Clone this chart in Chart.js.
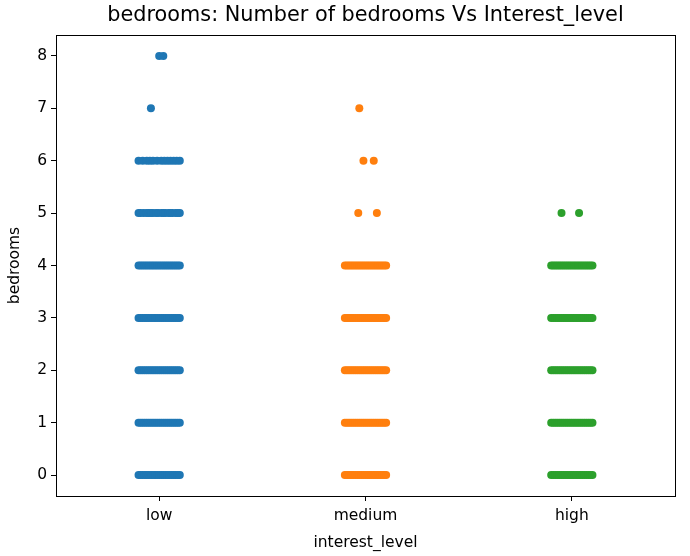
<!DOCTYPE html>
<html>
<head>
<meta charset="utf-8">
<script src="https://cdn.jsdelivr.net/npm/chart.js@4.4.1/dist/chart.umd.min.js"></script>
<style>
  html, body { margin: 0; padding: 0; background: #fff; }
  #wrap { width: 690px; height: 556px; }
</style>
</head>
<body>
<div id="wrap"><canvas id="c" width="690" height="556"></canvas></div>
<script>
// ---- data ----
const categories = ['low', 'medium', 'high'];
const yTickValues = [0, 1, 2, 3, 4, 5, 6, 7, 8];

// horizontal jitter offsets (category units) of the dots in a full strip
const fullStrip = [-0.10, -0.09, -0.08, -0.07, -0.06, -0.05, -0.04, -0.03, -0.02, -0.01, 0.00,
                   0.01, 0.02, 0.03, 0.04, 0.05, 0.06, 0.07, 0.08, 0.09, 0.10];
const lowFiveStrip = [-0.10, -0.09, -0.075, -0.06, -0.05, -0.04, -0.03, -0.015, -0.005, 0.01,
                      0.02, 0.03, 0.045, 0.055, 0.065, 0.08, 0.09, 0.10];
const lowSixStrip = [-0.10, -0.08, -0.06, -0.045, -0.03, -0.01, 0.01, 0.025, 0.04, 0.055,
                     0.07, 0.085, 0.10];

const lowLevels = [0, 1, 2, 3, 4, 5, 6, 7, 8];
const lowOffsets = [fullStrip, fullStrip, fullStrip, fullStrip, fullStrip, lowFiveStrip, lowSixStrip, [-0.04], [0.00, 0.02]];

const mediumLevels = [0, 1, 2, 3, 4, 5, 6, 7];
const mediumOffsets = [fullStrip, fullStrip, fullStrip, fullStrip, fullStrip, [-0.035, 0.055], [-0.01, 0.04], [-0.03]];

const highLevels = [0, 1, 2, 3, 4, 5];
const highOffsets = [fullStrip, fullStrip, fullStrip, fullStrip, fullStrip, [-0.05, 0.035]];

const seriesColors = ['#1f77b4', '#ff7f0e', '#2ca02c'];

// ---- build points ----
function buildPoints(catIndex, levels, offsets) {
  const pts = [];
  levels.forEach((lvl, i) => {
    offsets[i].forEach(o => pts.push({ x: catIndex + o, y: lvl }));
  });
  return pts;
}

const datasets = [
  { label: categories[0], data: buildPoints(0, lowLevels, lowOffsets) },
  { label: categories[1], data: buildPoints(1, mediumLevels, mediumOffsets) },
  { label: categories[2], data: buildPoints(2, highLevels, highOffsets) }
].map((d, i) => Object.assign(d, {
  backgroundColor: seriesColors[i],
  borderWidth: 0,
  pointRadius: 4,
  pointHoverRadius: 4
}));

const FONT = '"DejaVu Sans", sans-serif';

const framePlugin = {
  id: 'frame',
  afterDraw(chart) {
    const a = chart.chartArea, ctx = chart.ctx;
    ctx.save();
    ctx.strokeStyle = '#000';
    ctx.lineWidth = 1;
    ctx.strokeRect(Math.round(a.left) + 0.5, Math.round(a.top) + 0.5,
                   Math.round(a.right - a.left), Math.round(a.bottom - a.top));
    ctx.restore();
  }
};

new Chart(document.getElementById('c'), {
  type: 'scatter',
  data: { datasets },
  plugins: [framePlugin],
  options: {
    responsive: false,
    animation: false,
    layout: { padding: { left: 0, right: 15, top: 0, bottom: 0 } },
    plugins: {
      legend: { display: false },
      tooltip: { enabled: false },
      title: {
        display: true,
        fullSize: false,
        text: 'bedrooms: Number of bedrooms Vs Interest_level',
        color: '#000',
        font: { family: FONT, size: 20.8, weight: 'normal', lineHeight: 1.2 },
        padding: { top: 3, bottom: 7.04 }
      }
    },
    scales: {
      x: {
        type: 'linear',
        min: -0.5,
        max: 2.5,
        afterBuildTicks: s => { s.ticks = categories.map((c, i) => ({ value: i })); },
        afterFit: s => { s.height = 60; },
        ticks: {
          color: '#000',
          font: { family: FONT, size: 15.5 },
          padding: 6,
          maxRotation: 0,
          autoSkip: false,
          callback: v => categories[v]
        },
        grid: { drawOnChartArea: false, drawTicks: true, tickLength: 5, color: '#000' },
        border: { display: true, color: '#000', width: 1 },
        title: {
          display: true,
          text: 'interest_level',
          color: '#000',
          font: { family: FONT, size: 15.5 },
          padding: { top: 0, bottom: 4 }
        }
      },
      y: {
        type: 'linear',
        min: -0.4,
        max: 8.4,
        afterBuildTicks: s => { s.ticks = yTickValues.map(v => ({ value: v })); },
        afterFit: s => { s.width = 56; },
        ticks: {
          color: '#000',
          font: { family: FONT, size: 15.5 },
          padding: 4,
          autoSkip: false
        },
        grid: { drawOnChartArea: false, drawTicks: true, tickLength: 5, color: '#000' },
        border: { display: true, color: '#000', width: 1 },
        title: {
          display: true,
          text: 'bedrooms',
          color: '#000',
          font: { family: FONT, size: 15.5 },
          padding: { top: 6, bottom: 0 }
        }
      }
    }
  }
});
</script>
</body>
</html>
